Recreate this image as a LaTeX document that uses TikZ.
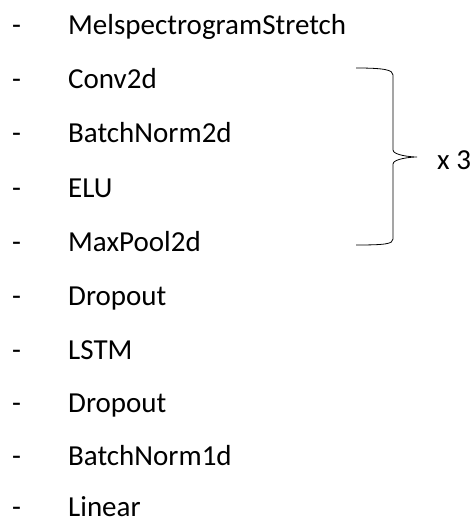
\documentclass[tikz,border=0pt]{standalone}
\usepackage{fontspec}
\setmainfont{Carlito}
\begin{document}
\begin{tikzpicture}[x=1pt, y=1pt,
    item/.style={anchor=base west, inner sep=0pt, font=\fontsize{29}{34}\selectfont},
    bullet/.style={anchor=base west, inner sep=0pt, font=\fontsize{29}{34}\selectfont}]
    \useasboundingbox (0,0) rectangle (472,-521);
    \node[bullet] (d1) at (12,-35) {-};
    \node[bullet] (d2) at (12,-89) {-};
    \node[bullet] (d3) at (12,-143) {-};
    \node[bullet] (d4) at (12,-197) {-};
    \node[bullet] (d5) at (12,-251) {-};
    \node[bullet] (d6) at (12,-305) {-};
    \node[bullet] (d7) at (12,-359) {-};
    \node[bullet] (d8) at (12,-412) {-};
    \node[bullet] (d9) at (12,-465) {-};
    \node[bullet] (d10) at (12,-516) {-};
    \node[item] (mel) at (68,-35) {MelspectrogramStretch};
    \node[item] (conv) at (68,-89) {Conv2d};
    \node[item] (bn2) at (68,-143) {BatchNorm2d};
    \node[item] (elu) at (68,-197) {ELU};
    \node[item] (pool) at (68,-251) {MaxPool2d};
    \node[item] (drop1) at (68,-305) {Dropout};
    \node[item] (lstm) at (68,-359) {LSTM};
    \node[item] (drop2) at (68,-412) {Dropout};
    \node[item] (bn1) at (68,-465) {BatchNorm1d};
    \node[item] (lin) at (68,-516) {Linear};
    \node[item, anchor=base west] (rep) at (437,-170) {x 3};
    \draw[line width=0.8pt] (356,-68) .. controls (385,-68) and (393,-70) .. (393,-75)
        -- (393,-150) .. controls (393,-155) and (410,-157) .. (417,-157)
        .. controls (410,-157) and (393,-159) .. (393,-164)
        -- (393,-239) .. controls (393,-244) and (385,-245) .. (356,-245);
\end{tikzpicture}
\end{document}
